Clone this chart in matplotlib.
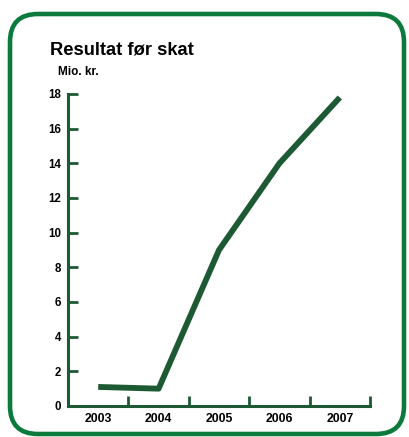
import numpy as np
import matplotlib.pyplot as plt
from matplotlib.patches import FancyBboxPatch

plt.rcParams['font.family'] = ['Liberation Sans', 'DejaVu Sans']
plt.rcParams['font.weight'] = 'bold'

years = ['2003', '2004', '2005', '2006', '2007']
result = [1.1, 1.0, 9.0, 14.0, 17.8]

dark = '#1d5a34'
frame = '#0b7a3c'

W, H = 409, 437
fig = plt.figure(figsize=(W / 100, H / 100), dpi=100)

# background axes in pixel units for the rounded frame
bg = fig.add_axes([0, 0, 1, 1])
bg.set_xlim(0, W)
bg.set_ylim(H, 0)
bg.axis('off')
bg.add_patch(FancyBboxPatch((10, 14), 394, 420,
                            boxstyle='round,pad=0,rounding_size=28',
                            fill=False, edgecolor=frame, linewidth=3.3))

ax = fig.add_axes([68 / W, 1 - 406 / H, (370 - 68) / W, (406 - 94) / H])
x = np.arange(len(years)) + 0.5
ax.plot(x, result, color=dark, linewidth=4.2, solid_capstyle='butt')

ax.set_xlim(0, 5)
ax.set_ylim(0, 18)
ax.set_yticks(np.arange(0, 19, 2))
ax.set_xticks(np.arange(1, 6))
ax.set_xticklabels([])
ax.set_xticks(x, minor=True)
ax.set_xticklabels(years, minor=True)
ax.tick_params(axis='x', which='minor', length=0, pad=5, labelsize=8.8)
ax.tick_params(axis='x', which='major', direction='in', length=7, width=2, color=dark)
ax.tick_params(axis='y', direction='in', length=7, width=2, color=dark, labelsize=8.3, pad=5)

for s in ['top', 'right']:
    ax.spines[s].set_visible(False)
for s in ['left', 'bottom']:
    ax.spines[s].set_color(dark)
    ax.spines[s].set_linewidth(2.2)

fig.text(50 / W, 1 - 50 / H, 'Resultat før skat', fontsize=13.2, fontweight='bold', va='center')
fig.text(58 / W, 1 - 72 / H, 'Mio. kr.', fontsize=8.5, fontweight='bold', va='center')

fig.savefig('out.png', dpi=100)
